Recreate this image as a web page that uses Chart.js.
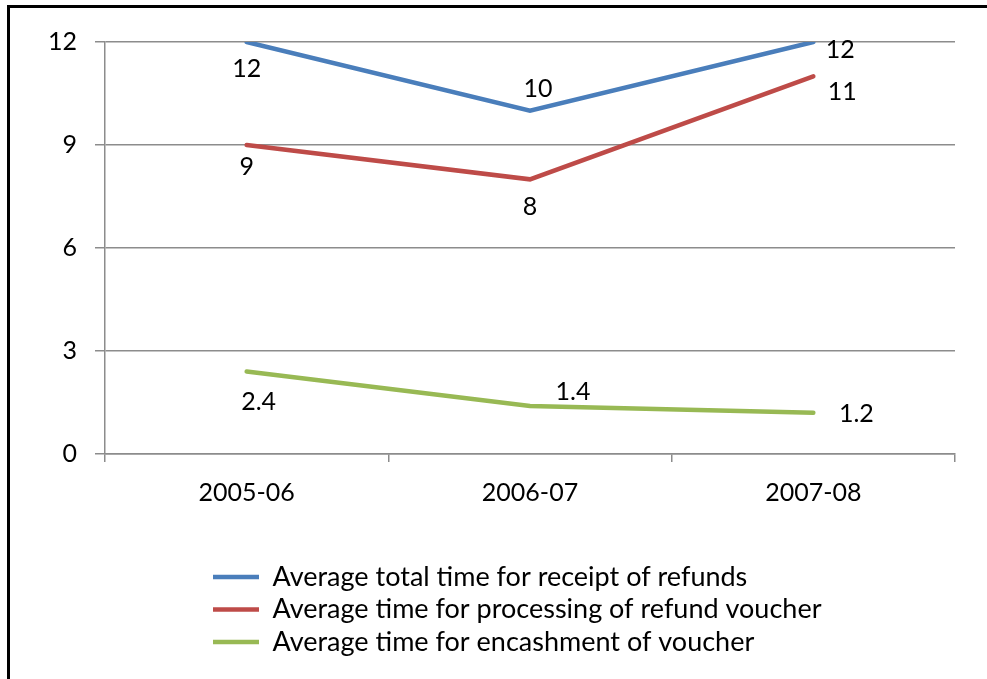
<!DOCTYPE html>
<html>
<head>
<meta charset="utf-8">
<script src="https://cdn.jsdelivr.net/npm/chart.js@4/dist/chart.umd.min.js"></script>
<style>
  body { margin: 0; background: #fff; overflow: hidden; }
</style>
</head>
<body>
<canvas id="mycanvas" width="987" height="679"></canvas>
<script>
var years = ['2005-06', '2006-07', '2007-08']
var totalTime = [12, 10, 12]
var processingTime = [9, 8, 11]
var encashmentTime = [2.4, 1.4, 1.2]
var yTicks = [0, 3, 6, 9, 12]

// where each value label sits, relative to its point (dx, dy)
var labelOffsets = [
    [[0, 27], [8, -22], [27, 8]],
    [[0, 22], [0, 28], [29, 16]],
    [[12, 30], [43, -14], [43, 1]]
]

var font = 'Lato'

var valueLabels = {
    id: 'valueLabels',
    afterDatasetsDraw: function(chart){
        var ctx = chart.ctx
        ctx.save()
        ctx.font = '25px ' + font
        ctx.fillStyle = '#000'
        ctx.textAlign = 'center'
        ctx.textBaseline = 'middle'
        chart.data.datasets.forEach(function(ds, i){
            var meta = chart.getDatasetMeta(i)
            meta.data.forEach(function(pt, j){
                var off = labelOffsets[i][j]
                ctx.fillText(String(ds.data[j]), pt.x + off[0], pt.y + off[1])
            })
        })
        ctx.restore()
    }
}

// outer frame of the chart (only left and top edges fall inside the picture)
var frame = {
    id: 'frame',
    beforeDraw: function(chart){
        var ctx = chart.ctx
        ctx.save()
        ctx.strokeStyle = '#000'
        ctx.lineWidth = 3
        ctx.beginPath()
        ctx.moveTo(8.5, chart.height)
        ctx.lineTo(8.5, 6.5)
        ctx.lineTo(chart.width, 6.5)
        ctx.stroke()
        ctx.restore()
    }
}

// legend block sits under the x axis, stacked
var placeLegend = {
    id: 'placeLegend',
    afterLayout: function(chart){
        var lg = chart.legend
        lg.left = 207.5
        lg.right = chart.width
        lg.top = 558
        lg.bottom = chart.height
    }
}

function line(label, data, color){
    return {
        label: label,
        data: data,
        borderColor: color,
        backgroundColor: color,
        borderWidth: 4.5,
        borderCapStyle: 'round',
        borderJoinStyle: 'miter',
        pointRadius: 0,
        tension: 0
    }
}

var context = document.getElementById('mycanvas').getContext('2d')
new Chart(context, {
    type: 'line',
    data: {
        labels: years,
        datasets: [
            line('Average total time for receipt of refunds', totalTime, '#4A7EBB'),
            line('Average time for processing of refund voucher', processingTime, '#BE4B48'),
            line('Average time for encashment of voucher', encashmentTime, '#98B954')
        ]
    },
    options: {
        responsive: false,
        animation: false,
        devicePixelRatio: 1,
        layout: { padding: { left: 0, top: 42, right: 32, bottom: 0 } },
        plugins: {
            tooltip: { enabled: false },
            legend: {
                position: 'chartArea',
                align: 'start',
                labels: {
                    usePointStyle: true,
                    pointStyle: 'line',
                    pointStyleWidth: 46,
                    boxHeight: 25,
                    padding: 5.5,
                    color: '#000',
                    font: { family: font, size: 27 }
                }
            }
        },
        scales: {
            x: {
                offset: true,
                afterFit: function(s){ s.height = 225 },
                grid: { offset: true, drawOnChartArea: false, tickLength: 8, color: '#8c8c8c', lineWidth: 1.5 },
                border: { color: '#8c8c8c', width: 1.5 },
                ticks: { color: '#000', padding: 16, font: { family: font, size: 25 } }
            },
            y: {
                min: yTicks[0],
                max: yTicks[yTicks.length - 1],
                afterFit: function(s){ s.width = 105 },
                grid: { tickLength: 10, color: '#8c8c8c', lineWidth: 1.5 },
                border: { color: '#8c8c8c', width: 1.5 },
                ticks: { stepSize: yTicks[1] - yTicks[0], color: '#000', padding: 18, font: { family: font, size: 25 } }
            }
        }
    },
    plugins: [frame, valueLabels, placeLegend]
})
</script>
</body>
</html>
